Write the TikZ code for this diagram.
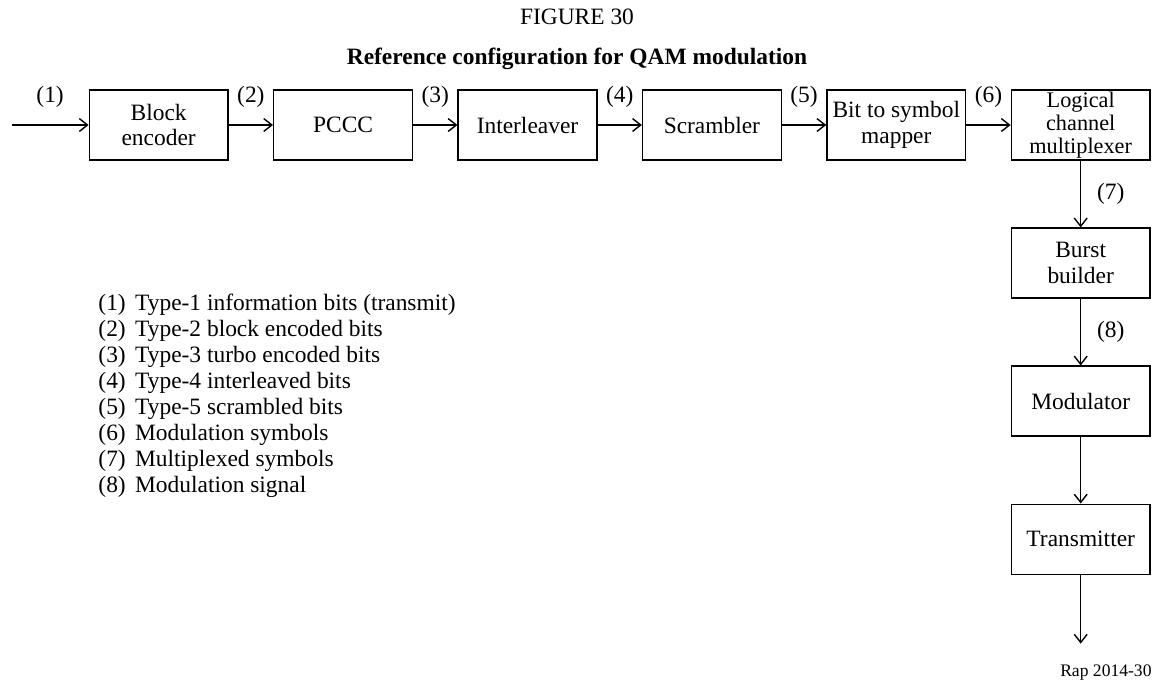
\documentclass[tikz,border=0pt]{standalone}
\usepackage{fontspec}
\setmainfont{Liberation Serif}
\usetikzlibrary{arrows.meta, positioning}

\begin{document}
\begin{tikzpicture}[
    node distance=1.0cm and 0.665cm,
    box/.style={draw, line width=0.6pt, minimum width=2.08cm, minimum height=1.05cm, inner sep=1pt, font=\fontsize{10}{11}\selectfont, align=center},
    arrow/.style={-{Straight Barb[length=3.5pt,width=5.5pt]}, line width=0.6pt},
    num/.style={font=\fontsize{10}{11}\selectfont, inner sep=1pt},
    legendtext/.style={font=\fontsize{10}{11.1}\selectfont, align=left, inner sep=0pt},
  ]
  \useasboundingbox (0,0) rectangle (17.325,-10.275);
  \node[font=\fontsize{10}{12}\selectfont] (fignum) at (8.655,-0.255) {FIGURE 30};
  \node[font=\fontsize{10}{12}\selectfont\bfseries] (figtitle) at (8.655,-0.885) {Reference configuration for QAM modulation};
  \node[box] (blockenc) at (2.38,-1.875) {Block\\encoder};
  \node[box, right=of blockenc] (pccc) {PCCC};
  \node[box, right=of pccc] (interleaver) {Interleaver};
  \node[box, right=of interleaver] (scrambler) {Scrambler};
  \node[box, right=of scrambler] (mapper) {Bit to symbol\\mapper};
  \node[box, right=of mapper, inner ysep=0pt, font=\fontsize{9.5}{9.9}\selectfont] (lcmux) {Logical\\channel\\multiplexer};
  \node[box, below=of lcmux] (burst) {Burst\\builder};
  \node[box, below=of burst] (modulator) {Modulator};
  \node[box, below=of modulator] (transmitter) {Transmitter};
  \coordinate[left=1.155cm of blockenc] (input);
  \coordinate[below=1.03cm of transmitter] (output);
  \draw[arrow] (input) -- node[num, above=0.22cm] (n1) {(1)} (blockenc);
  \draw[arrow] (blockenc) -- node[num, above=0.22cm] (n2) {(2)} (pccc);
  \draw[arrow] (pccc) -- node[num, above=0.22cm] (n3) {(3)} (interleaver);
  \draw[arrow] (interleaver) -- node[num, above=0.22cm] (n4) {(4)} (scrambler);
  \draw[arrow] (scrambler) -- node[num, above=0.22cm] (n5) {(5)} (mapper);
  \draw[arrow] (mapper) -- node[num, above=0.22cm] (n6) {(6)} (lcmux);
  \draw[arrow] (lcmux) -- node[num, right=0.2cm] (n7) {(7)} (burst);
  \draw[arrow] (burst) -- node[num, right=0.2cm] (n8) {(8)} (modulator);
  \draw[arrow] (modulator) -- (transmitter);
  \draw[arrow] (transmitter) -- (output);
  \node[legendtext, anchor=north west] (legend) at (1.47,-4.4) {%
    (1)\hspace{4pt}Type-1 information bits (transmit)\\
    (2)\hspace{4pt}Type-2 block encoded bits\\
    (3)\hspace{4pt}Type-3 turbo encoded bits\\
    (4)\hspace{4pt}Type-4 interleaved bits\\
    (5)\hspace{4pt}Type-5 scrambled bits\\
    (6)\hspace{4pt}Modulation symbols\\
    (7)\hspace{4pt}Multiplexed symbols\\
    (8)\hspace{4pt}Modulation signal};
  \node[font=\fontsize{7.5}{9}\selectfont, anchor=east, inner sep=0pt] (rapno) at (17.28,-10.095) {Rap 2014-30};
\end{tikzpicture}
\end{document}
